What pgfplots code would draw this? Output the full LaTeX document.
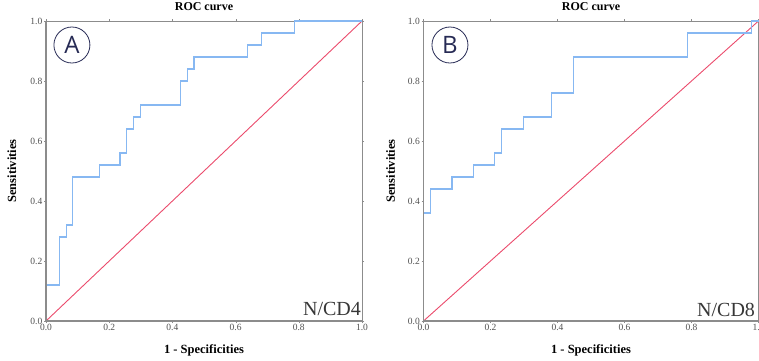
\documentclass[border=0pt]{standalone}
\usepackage{pgfplots}
\pgfplotsset{compat=1.18}
\usepackage{fontspec}
\setmainfont{Liberation Serif}
\newfontfamily\lettfont{Open Sans}
\definecolor{roc}{RGB}{135,184,242}
\definecolor{diag}{RGB}{235,75,108}
\definecolor{navy}{RGB}{38,42,84}
\definecolor{axg}{RGB}{140,140,140}
\definecolor{tickg}{RGB}{80,80,80}
\definecolor{txtg}{RGB}{55,55,55}
\begin{document}
\begin{tikzpicture}
\path[use as bounding box] (0,0) rectangle (759pt,360pt);
\pgfplotsset{rocax/.style={
  scale only axis, height=300pt,
  xmin=0, xmax=1, ymin=0, ymax=1,
  xtick={0,0.2,0.4,0.6,0.8,1}, ytick={0,0.2,0.4,0.6,0.8,1},
  /pgf/number format/assume math mode=true,
  xticklabel style={/pgf/number format/fixed,/pgf/number format/fixed zerofill,/pgf/number format/precision=1, inner sep=1pt},
  yticklabel style={/pgf/number format/fixed,/pgf/number format/fixed zerofill,/pgf/number format/precision=1, inner sep=1.5pt},
  tick label style={font=\fontsize{9.5}{10}\selectfont, text=tickg},
  tick style={axg}, major tick length=2pt, tick align=outside,
  axis line style={axg, line width=0.8pt},
  title={ROC curve},
  title style={font=\bfseries\fontsize{12}{13}\selectfont, at={(axis description cs:0.5,1.027)}, anchor=center},
  xlabel={1 - Specificities}, ylabel={Sensitivities},
  label style={font=\bfseries\fontsize{12.5}{13}\selectfont},
  xlabel style={at={(axis description cs:0.5,-0.097)}, anchor=center},
  clip=false,
}}
\begin{axis}[rocax, at={(46pt,39pt)}, anchor=south west, width=316pt,
  ylabel style={at={(axis description cs:-0.108,0.5)}, anchor=center, rotate=0}]
\addplot[diag, line width=0.9pt] coordinates {(0,0) (1,1)};
\addplot[draw=roc, line width=1.2pt, const plot] coordinates {
(0,0) (0,0.12) (0.0426,0.28) (0.0638,0.32) (0.0851,0.48) (0.1702,0.52) (0.2340,0.56) (0.2553,0.64) (0.2766,0.68) (0.2979,0.72) (0.4255,0.80) (0.4468,0.84) (0.4681,0.88) (0.6383,0.92) (0.6809,0.96) (0.7872,1.0) (1,1)};
\draw[axg, line width=1.4pt] (rel axis cs:0,1) -- (rel axis cs:0,0) -- (rel axis cs:1,0);
\node[circle, draw=navy, line width=0.8pt, minimum size=36pt, inner sep=0pt, text=navy, font=\lettfont\fontsize{24}{24}\selectfont] at (rel axis cs:0.082,0.92) {A};
\node[anchor=base east, inner sep=0pt, font=\fontsize{20}{20}\selectfont, text=txtg] at (rel axis cs:0.997,0.02) {N/CD4};
\end{axis}
\begin{axis}[rocax, at={(423.5pt,39pt)}, anchor=south west, width=335pt,
  ylabel style={at={(axis description cs:-0.098,0.5)}, anchor=center, rotate=0}]
\addplot[diag, line width=0.9pt] coordinates {(0,0) (1,1)};
\addplot[draw=roc, line width=1.2pt, const plot] coordinates {
(0,0) (0,0.36) (0.0213,0.44) (0.0851,0.48) (0.1489,0.52) (0.2128,0.56) (0.2340,0.64) (0.2979,0.68) (0.3830,0.76) (0.4468,0.88) (0.7872,0.96) (0.9787,1.0) (1,1)};
\draw[axg, line width=1.4pt] (rel axis cs:0,1) -- (rel axis cs:0,0) -- (rel axis cs:1,0);
\node[circle, draw=navy, line width=0.8pt, minimum size=36pt, inner sep=0pt, text=navy, font=\lettfont\fontsize{24}{24}\selectfont] at (rel axis cs:0.079,0.92) {B};
\node[anchor=base east, inner sep=0pt, font=\fontsize{20}{20}\selectfont, text=txtg] at (rel axis cs:0.99,0.015) {N/CD8};
\end{axis}
\end{tikzpicture}
\end{document}
